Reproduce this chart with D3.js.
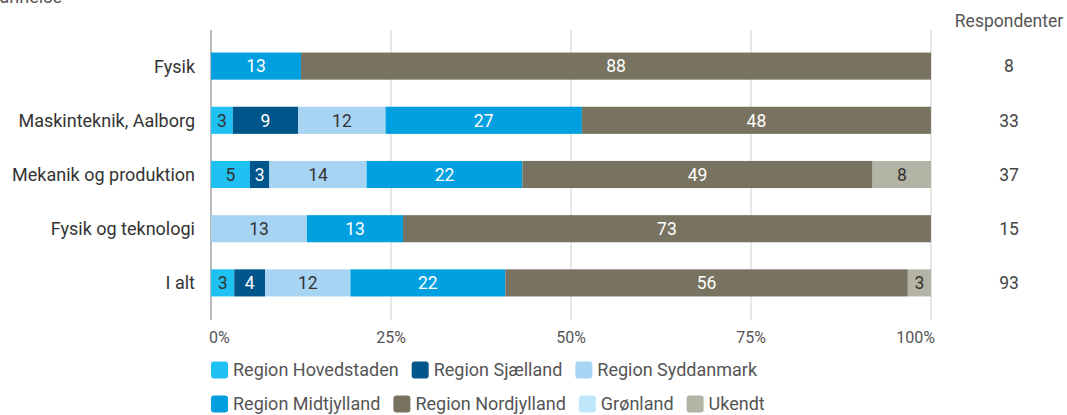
<!DOCTYPE html>
<html>
<head>
<meta charset="utf-8">
<script src="https://cdn.jsdelivr.net/npm/d3@7"></script>
<style>
  body { margin: 0; background: #fff; }
  svg { font-family: Roboto, sans-serif; }
</style>
</head>
<body>
<svg width="1067" height="415"></svg>
<script>
const categories = ["Fysik", "Maskinteknik, Aalborg", "Mekanik og produktion", "Fysik og teknologi", "I alt"];
const series = ["Region Hovedstaden", "Region Sjælland", "Region Syddanmark", "Region Midtjylland", "Region Nordjylland", "Grønland", "Ukendt"];
const colors = ["#1ec1f2", "#00558a", "#a8d4f4", "#009fdf", "#787360", "#bfe7fb", "#b4b4a6"];
const textColors = ["#333", "#fff", "#333", "#fff", "#fff", "#333", "#333"];

// percentages per category, in series order
const hovedstaden = [0, 3.03, 5.41, 0, 3.23];
const sjaelland   = [0, 9.09, 2.70, 0, 4.30];
const syddanmark  = [0, 12.12, 13.51, 13.33, 11.83];
const midtjylland = [12.5, 27.27, 21.62, 13.33, 21.51];
const nordjylland = [87.5, 48.48, 48.65, 73.33, 55.91];
const groenland   = [0, 0, 0, 0, 0];
const ukendt      = [0, 0, 8.11, 0, 3.23];
const respondenter = [8, 33, 37, 15, 93];
const tickValues = [0, 25, 50, 75, 100];

const values = [hovedstaden, sjaelland, syddanmark, midtjylland, nordjylland, groenland, ukendt];

const svg = d3.select("svg");

const x = d3.scaleLinear().domain([0, 100]).range([211, 931]);
const y = d3.scaleBand().domain(categories).range([39, 310]).paddingInner(0.5).paddingOuter(0.25);

// clipped subtitle at very top
svg.append("text")
    .attr("x", 62).attr("y", 3)
    .attr("text-anchor", "end")
    .attr("font-size", 18)
    .attr("fill", "#555")
    .text("fordelt på uddannelse");

// gridlines
svg.append("g")
    .selectAll("line")
    .data(tickValues)
    .join("line")
    .attr("x1", d => x(d)).attr("x2", d => x(d))
    .attr("y1", 30).attr("y2", 320)
    .attr("stroke", d => d === 0 ? "#bbb" : "#d0d0d0")
    .attr("stroke-width", d => d === 0 ? 2 : 1);

// tick labels
svg.append("g")
    .selectAll("text")
    .data(tickValues)
    .join("text")
    .attr("x", (d, i) => i === 0 ? x(d) - 2 : i === tickValues.length - 1 ? x(d) + 4 : x(d))
    .attr("y", 343)
    .attr("text-anchor", (d, i) => i === 0 ? "start" : i === tickValues.length - 1 ? "end" : "middle")
    .attr("font-size", 16)
    .attr("fill", "#555")
    .text(d => d + "%");

// stacked bars
const stackData = categories.map((c, i) => {
    const row = { cat: c };
    series.forEach((s, j) => row[s] = values[j][i]);
    return row;
});
const stacked = d3.stack().keys(series)(stackData);

const layers = svg.append("g")
    .selectAll("g")
    .data(stacked)
    .join("g");

layers.selectAll("rect")
    .data(d => d.map(p => ({ p, idx: d.index })))
    .join("rect")
    .attr("x", d => x(d.p[0]))
    .attr("y", d => y(d.p.data.cat))
    .attr("width", d => x(d.p[1]) - x(d.p[0]))
    .attr("height", y.bandwidth())
    .attr("fill", d => colors[d.idx]);

layers.selectAll("text")
    .data(d => d.filter(p => p[1] - p[0] > 0).map(p => ({ p, idx: d.index })))
    .join("text")
    .attr("x", d => (x(d.p[0]) + x(d.p[1])) / 2)
    .attr("y", d => y(d.p.data.cat) + y.bandwidth() / 2)
    .attr("dy", "0.36em")
    .attr("text-anchor", "middle")
    .attr("font-size", 17.5)
    .attr("fill", d => textColors[d.idx])
    .text(d => Math.round(d.p[1] - d.p[0]));

// category labels
svg.append("g")
    .selectAll("text")
    .data(categories)
    .join("text")
    .attr("x", 195)
    .attr("y", d => y(d) + y.bandwidth() / 2)
    .attr("dy", "0.36em")
    .attr("text-anchor", "end")
    .attr("font-size", 18)
    .attr("fill", "#333")
    .text(d => d);

// respondenter column
svg.append("text")
    .attr("x", 1009).attr("y", 27)
    .attr("text-anchor", "middle")
    .attr("font-size", 17.5)
    .attr("fill", "#555")
    .text("Respondenter");

svg.append("g")
    .selectAll("text")
    .data(respondenter)
    .join("text")
    .attr("x", 1009)
    .attr("y", (d, i) => y(categories[i]) + y.bandwidth() / 2)
    .attr("dy", "0.36em")
    .attr("text-anchor", "middle")
    .attr("font-size", 17.5)
    .attr("fill", "#444")
    .text(d => d);

// legend, two rows
const legendRows = [series.slice(0, 3), series.slice(3)];
const rowY = [370, 404];
legendRows.forEach((row, r) => {
    let cx = 211;
    row.forEach(name => {
        const idx = series.indexOf(name);
        const g = svg.append("g");
        g.append("rect")
            .attr("x", cx).attr("y", rowY[r] - 8.5)
            .attr("width", 17).attr("height", 17)
            .attr("rx", 3)
            .attr("fill", colors[idx]);
        const t = g.append("text")
            .attr("x", cx + 22).attr("y", rowY[r])
            .attr("dy", "0.36em")
            .attr("font-size", 18)
            .attr("fill", "#555")
            .text(name);
        cx += 22 + t.node().getComputedTextLength() + 13;
    });
});
</script>
</body>
</html>
